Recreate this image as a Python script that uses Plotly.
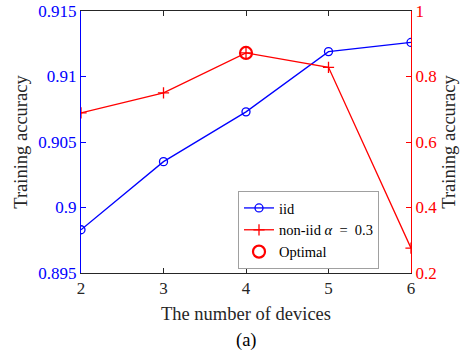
import plotly.graph_objects as go

devices = [2, 3, 4, 5, 6]
iid_acc = [0.8983, 0.9035, 0.9073, 0.9119, 0.9126]
noniid_acc = [0.689, 0.750, 0.872, 0.828, 0.276]
opt_x = [4]
opt_y = [0.872]

FONT = "Liberation Serif"
BLUE = "#0000ff"
RED = "#ff0000"

fig = go.Figure()
fig.add_trace(go.Scatter(x=devices, y=iid_acc, name="iid", mode="lines+markers",
                         line=dict(color=BLUE, width=1.3),
                         marker=dict(symbol="circle-open", size=8, color=BLUE, line=dict(width=1.3))))
fig.add_trace(go.Scatter(x=devices, y=noniid_acc, name="non-iid <i>α</i>&nbsp;&nbsp;=&nbsp;&nbsp;0.3", mode="lines+markers",
                         yaxis="y2", line=dict(color=RED, width=1.3),
                         marker=dict(symbol="cross-thin-open", size=8, color=RED, line=dict(width=1.3, color=RED))))
fig.add_trace(go.Scatter(x=opt_x, y=opt_y, name="Optimal", mode="markers", yaxis="y2",
                         marker=dict(symbol="circle-open", size=12, color=RED, line=dict(width=2.2, color=RED))))

fig.update_layout(
    width=463, height=361,
    margin=dict(l=81, r=52, t=11, b=88),
    paper_bgcolor="white", plot_bgcolor="white",
    font=dict(family=FONT, size=17, color="#262626"),
    showlegend=True,
    legend=dict(x=(238 - 81) / 330, y=(273 - 191) / 262, xanchor="left", yanchor="top",
                bgcolor="white", bordercolor="#a0a0a0", borderwidth=1,
                font=dict(family=FONT, size=14.5, color="#000000"),
                tracegroupgap=0, itemwidth=30, itemsizing="trace"),
    xaxis=dict(range=[2, 6], tickvals=devices, ticktext=[str(d) for d in devices],
               showgrid=False, zeroline=False, automargin=False,
               showline=True, linecolor="#262626", linewidth=1, mirror="ticks",
               ticks="inside", ticklen=5, tickcolor="#262626",
               title=dict(text="The number of devices", standoff=9, font=dict(family=FONT, size=18.5)),
               tickfont=dict(family=FONT, size=17, color="#262626")),
    yaxis=dict(range=[0.895, 0.915], tickvals=[0.895, 0.9, 0.905, 0.91, 0.915],
               ticktext=["0.895", "0.9", "0.905", "0.91", "0.915"],
               showgrid=False, zeroline=False, automargin=False,
               showline=True, linecolor=BLUE, linewidth=1,
               ticks="inside", ticklen=5, tickcolor=BLUE,
               tickfont=dict(family=FONT, size=17, color=BLUE),
               title=dict(text="Training accuracy", standoff=5, font=dict(family=FONT, size=18.5, color="#262626"))),
    yaxis2=dict(range=[0.2, 1.0], tickvals=[0.2, 0.4, 0.6, 0.8, 1.0],
                ticktext=["0.2", "0.4", "0.6", "0.8", "1"],
                overlaying="y", side="right", automargin=False,
                showgrid=False, zeroline=False,
                showline=True, linecolor=RED, linewidth=1,
                ticks="inside", ticklen=5, tickcolor=RED,
                tickfont=dict(family=FONT, size=17, color=RED),
                title=dict(text="Training accuracy", standoff=5, font=dict(family=FONT, size=18.5, color="#262626"))),
    annotations=[dict(text="(a)", x=0.5, y=-(340 - 273) / 262, xref="paper", yref="paper",
                      yanchor="middle", showarrow=False, font=dict(family=FONT, size=18.5, color="#000000"))],
)

fig.write_html("out.html")
